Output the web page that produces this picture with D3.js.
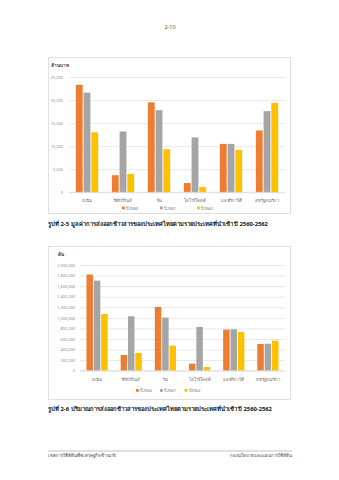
<!DOCTYPE html>
<html><head><meta charset="utf-8">
<script src="https://cdn.jsdelivr.net/npm/d3@7"></script>
<style>body{margin:0;background:#fff}svg{display:block}text{font-family:"Noto Sans","DejaVu Sans",sans-serif}</style>
</head><body><svg id="c" width="339" height="480"></svg>
<script>
const categories = ["เบนิน","ฟิลิปปินส์","จีน","ไอโวรีโคสต์","แอฟริกาใต้","สหรัฐอเมริกา"];
const seriesNames = ["ปี 2560","ปี 2561","ปี 2562"];
const colors = ["#ED7D31","#A5A5A5","#FFC000"];
// มูลค่า (ล้านบาท)
const value2560 = [23300, 3700, 19500, 2000, 10500, 13400];
const value2561 = [21600, 13200, 17800, 11900, 10500, 17600];
const value2562 = [13000, 4000, 9350, 1150, 9200, 19400];
const valueTicks = [0,5000,10000,15000,20000,25000];
// ปริมาณ (ตัน)
const qty2560 = [1820000, 297000, 1206000, 133000, 777000, 506000];
const qty2561 = [1705000, 1030000, 1004000, 828000, 784000, 511000];
const qty2562 = [1074000, 335000, 474000, 70000, 733000, 568000];
const qtyTicks = [0,200000,400000,600000,800000,1000000,1200000,1400000,1600000,1800000,2000000];

const svg = d3.select("#c");
svg.append("rect").attr("width",339).attr("height",480).attr("fill","#fff");
svg.append("text").attr("x",170).attr("y",29).attr("text-anchor","middle")
  .attr("font-size",5.5).attr("fill","#555").text("2-10");

function chart(o){
  const g = svg.append("g");
  g.append("rect").attr("x",o.box[0]+0.5).attr("y",o.box[1]+0.5)
   .attr("width",o.box[2]-o.box[0]).attr("height",o.box[3]-o.box[1])
   .attr("fill","#fff").attr("stroke","#D9D9D9").attr("stroke-width",0.8);
  g.append("text").attr("x",o.unitX).attr("y",o.unitY).attr("font-size",4.6)
   .attr("font-weight","bold").attr("fill","#404040").text(o.unit);
  const y = d3.scaleLinear().domain([0,o.max]).range([o.y0,o.y1]);
  const x = d3.scaleBand().domain(categories).range([o.x0,o.x1]).paddingInner(0.38).paddingOuter(0.19);
  const xs = d3.scaleBand().domain(seriesNames).range([0,x.bandwidth()]).paddingInner(0.12);
  const ax = d3.axisLeft(y).tickValues(o.ticks).tickSize(-(o.x1-o.x0)).tickFormat(d3.format(","));
  const ag = g.append("g").attr("transform",`translate(${o.x0},0)`).call(ax);
  ag.select(".domain").remove();
  ag.selectAll(".tick line").attr("stroke","#D9D9D9").attr("stroke-width",0.6);
  ag.selectAll(".tick text").attr("x",o.tickX-o.x0).attr("font-size",3.9).attr("fill","#8C8C8C");
  const data = o.series;
  seriesNames.forEach((s,si)=>{
    g.append("g").selectAll("rect").data(categories).join("rect")
     .attr("x",c=>x(c)+xs(s)).attr("width",xs.bandwidth())
     .attr("y",(c,i)=>y(data[si][i])).attr("height",(c,i)=>y(0)-y(data[si][i]))
     .attr("fill",colors[si]);
  });
  g.append("line").attr("x1",o.x0).attr("x2",o.x1).attr("y1",y(0)).attr("y2",y(0))
   .attr("stroke","#D9D9D9").attr("stroke-width",0.7);
  g.append("g").selectAll("text").data(categories).join("text")
   .attr("x",c=>x(c)+x.bandwidth()/2).attr("y",o.catY).attr("text-anchor","middle")
   .attr("font-size",4.2).attr("fill","#666").text(c=>c);
  const lg = g.append("g");
  seriesNames.forEach((s,si)=>{
    lg.append("rect").attr("x",o.legX[si]).attr("y",o.legY-3).attr("width",2.8).attr("height",2.8).attr("fill",colors[si]);
    lg.append("text").attr("x",o.legX[si]+4).attr("y",o.legY).attr("font-size",3.9).attr("fill","#666").text(s);
  });
  svg.append("text").attr("x",o.box[0]).attr("y",o.capY).attr("font-size",5.8).attr("font-weight","bold")
   .attr("fill","#111").text(o.caption);
}

chart({box:[48,57,290,213], unit:"ล้านบาท", unitX:51, unitY:66.5,
  max:25000, ticks:valueTicks, y0:192.3, y1:77, x0:69, x1:285, tickX:63,
  series:[value2560,value2561,value2562], catY:201.5, legX:[122,160,197], legY:209.5, capY:226,
  caption:"รูปที่ 2-5 มูลค่าการส่งออกข้าวสารของประเทศไทยตามรายประเทศที่นำเข้า ปี 2560-2562"});

chart({box:[48,246,290,399], unit:"ตัน", unitX:58, unitY:255.5,
  max:2000000, ticks:qtyTicks, y0:370.7, y1:265, x0:80, x1:285, tickX:75,
  series:[qty2560,qty2561,qty2562], catY:380.5, legX:[136,160,184.5], legY:392, capY:411,
  caption:"รูปที่ 2-6 ปริมาณการส่งออกข้าวสารของประเทศไทยตามรายประเทศที่นำเข้า ปี 2560-2562"});

svg.append("line").attr("x1",48).attr("x2",292).attr("y1",451).attr("y2",451).attr("stroke","#999").attr("stroke-width",0.6);
svg.append("text").attr("x",48).attr("y",457).attr("font-size",4.4).attr("fill","#444").text("เขตการใช้ที่ดินพืชเศรษฐกิจข้าวนาปี");
svg.append("text").attr("x",292).attr("y",457).attr("text-anchor","end").attr("font-size",4.4).attr("fill","#444").text("กองนโยบายและแผนการใช้ที่ดิน");
</script></body></html>
